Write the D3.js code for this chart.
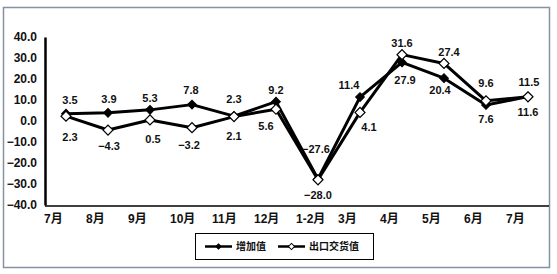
<!DOCTYPE html>
<html>
<head>
<meta charset="utf-8">
<script src="https://cdn.jsdelivr.net/npm/d3@7/dist/d3.min.js"></script>
<style>
  body { margin: 0; background: #fff; }
  svg text { font-family: "Liberation Sans", Arial, "Noto Sans CJK SC", sans-serif; font-weight: bold; }
</style>
</head>
<body>
<svg id="chart" width="557" height="274"></svg>
<script>
// months on the x axis
var months = ["7月", "8月", "9月", "10月", "11月", "12月", "1-2月", "3月", "4月", "5月", "6月", "7月"];
// 增加值 (filled diamonds)
var addedValue = [3.5, 3.9, 5.3, 7.8, 2.3, 9.2, -27.6, 11.4, 27.9, 20.4, 7.6, 11.6];
// 出口交货值 (open diamonds)
var exportValue = [2.3, -4.3, 0.5, -3.2, 2.1, 5.6, -28.0, 4.1, 31.6, 27.4, 9.6, 11.5];
var yTicks = [-40, -30, -20, -10, 0, 10, 20, 30, 40];
var seriesNames = ["增加值", "出口交货值"];

// label nudges [dx, dy] relative to the point, one per month
var addedNudge = [[4, -14], [1, -14], [0, -12], [-1, -14], [0, -17], [0, -12], [-2, -30], [-11, -12], [3, 18], [-4, 12], [0, 14], [0, 16]];
var exportNudge = [[4, 21], [1, 16], [3, 19], [-3, 17], [0, 20], [-10, 17], [0, 15], [9, 15], [0, -11], [5, -11], [0, -18], [1, -15]];

(function () {
  "use strict";

  var svg = d3.select("#chart");

  // outer frame
  svg.append("rect").attr("x", 3.5).attr("y", 7.5).attr("width", 546).attr("height", 260)
    .attr("fill", "#fff").attr("stroke", "#8393a3").attr("stroke-width", 1.5);

  var plotLeft = 45, plotRight = 549, plotTop = 37, plotBottom = 205;

  var x = d3.scaleBand().domain(d3.range(months.length)).range([plotLeft, plotLeft + 42 * months.length]);
  var y = d3.scaleLinear().domain([-40, 40]).range([plotBottom, plotTop]);

  // y axis
  var yAxis = svg.append("g").attr("transform", "translate(" + plotLeft + ",0)")
    .call(d3.axisLeft(y).tickValues(yTicks).tickFormat(d3.format(".1f")).tickSize(0).tickPadding(8));
  yAxis.select(".domain").attr("stroke", "#000").attr("stroke-width", 2.5);
  yAxis.selectAll("text").attr("font-size", 12).attr("fill", "#111");

  // x axis line across the whole width
  svg.append("line").attr("x1", plotLeft).attr("x2", plotRight).attr("y1", plotBottom + 1).attr("y2", plotBottom + 1)
    .attr("stroke", "#000").attr("stroke-width", 1.5);

  svg.append("g").selectAll("text").data(months).enter().append("text")
    .attr("x", function(d, i) { return x(i) - 1; })
    .attr("y", plotBottom + 18)
    .attr("font-size", 12).attr("fill", "#111")
    .text(function(d) { return d; });

  var cx = function(i) { return x(i) + x.bandwidth() / 2; };

  var line = d3.line()
    .x(function(d, i) { return cx(i); })
    .y(function(d) { return y(d); });

  // square diamonds: a square turned by 45 degrees
  var diamond = d3.symbol().type(d3.symbolSquare);

  function drawSeries(values, filled, size) {
    var g = svg.append("g");
    g.append("path").datum(values).attr("d", line)
      .attr("fill", "none").attr("stroke", "#000").attr("stroke-width", 3).attr("stroke-linejoin", "round");
    g.selectAll("path.pt").data(values).enter().append("path").attr("class", "pt")
      .attr("d", diamond.size(size))
      .attr("transform", function(d, i) { return "translate(" + cx(i) + "," + y(d) + ") rotate(45)"; })
      .attr("fill", filled ? "#000" : "#fff").attr("stroke", "#000").attr("stroke-width", filled ? 1 : 1.2);
  }

  drawSeries(addedValue, true, 38);
  drawSeries(exportValue, false, 50);

  function drawLabels(values, nudge) {
    svg.append("g").selectAll("text").data(values).enter().append("text")
      .attr("x", function(d, i) { return cx(i) + nudge[i][0]; })
      .attr("y", function(d, i) { return y(d) + nudge[i][1]; })
      .attr("dy", "0.35em").attr("text-anchor", "middle")
      .attr("font-size", 11).attr("fill", "#111")
      .text(function(d) { return d3.format(".1f")(d); });
  }
  drawLabels(addedValue, addedNudge);
  drawLabels(exportValue, exportNudge);

  // legend
  var lg = svg.append("g");
  lg.append("rect").attr("x", 195.5).attr("y", 233.5).attr("width", 178).attr("height", 26)
    .attr("fill", "#fff").attr("stroke", "#000").attr("stroke-width", 1);
  var items = [{ x: 205, filled: true }, { x: 278, filled: false }];
  items.forEach(function(it, i) {
    lg.append("line").attr("x1", it.x).attr("x2", it.x + 27).attr("y1", 246.5).attr("y2", 246.5)
      .attr("stroke", "#000").attr("stroke-width", 2.5);
    lg.append("path").attr("d", diamond.size(it.filled ? 14 : 20))
      .attr("transform", "translate(" + (it.x + 13.5) + ",246.5) rotate(45)")
      .attr("fill", it.filled ? "#000" : "#fff").attr("stroke", "#000").attr("stroke-width", 1);
    lg.append("text").attr("x", it.x + 31).attr("y", 246.5).attr("dy", "0.35em")
      .attr("font-size", 10).attr("fill", "#111").text(seriesNames[i]);
  });
})();
</script>
</body>
</html>
